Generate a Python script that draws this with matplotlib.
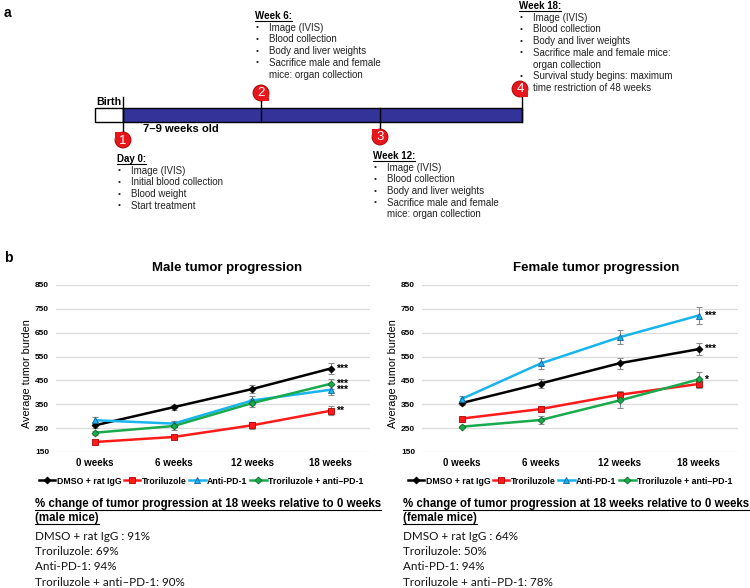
import numpy as np
import matplotlib
matplotlib.use('Agg')
import matplotlib.pyplot as plt
from matplotlib.patches import Rectangle, Circle

plt.rcParams['font.family'] = ['Liberation Sans', 'DejaVu Sans']

W, H = 750, 588

# ---- data ----
weeks = ['0 weeks', '6 weeks', '12 weeks', '18 weeks']
groups = ['DMSO + rat IgG', 'Troriluzole', 'Anti-PD-1', 'Troriluzole + anti\u2013PD-1']

male_dmso = [262, 338, 414, 500]
male_tror = [192, 213, 262, 323]
male_anti = [283, 269, 366, 411]
male_combo = [231, 259, 355, 436]
male_dmso_err = [12, 10, 18, 24]
male_tror_err = [8, 8, 14, 18]
male_anti_err = [12, 12, 18, 20]
male_combo_err = [8, 18, 16, 20]
male_stars = ['***', '**', '***', '***']

female_dmso = [355, 437, 522, 581]
female_tror = [290, 330, 390, 435]
female_anti = [372, 521, 631, 722]
female_combo = [256, 284, 366, 454]
female_dmso_err = [10, 18, 22, 26]
female_tror_err = [6, 12, 16, 18]
female_anti_err = [12, 22, 30, 35]
female_combo_err = [5, 18, 30, 30]
female_stars = ['***', '', '***', '*']

pct_labels = ['DMSO + rat IgG :', 'Troriluzole:', 'Anti-PD-1:', 'Troriluzole + anti\u2013PD-1:']
male_pct = [91, 69, 94, 90]
female_pct = [64, 50, 94, 78]

# timeline events; '+' marks a wrapped line with no bullet
day0_items = ['Image (IVIS)', 'Initial blood collection', 'Blood weight', 'Start treatment']
week6_items = ['Image (IVIS)', 'Blood collection', 'Body and liver weights',
               'Sacrifice male and female', '+mice: organ collection']
week12_items = ['Image (IVIS)', 'Blood collection', 'Body and liver weights',
                'Sacrifice male and female', '+mice: organ collection']
week18_items = ['Image (IVIS)', 'Blood collection', 'Body and liver weights',
                'Sacrifice male and female mice:', '+organ collection',
                'Survival study begins: maximum', '+time restriction of 48 weeks']

colors = ['#000000', '#ff1a1a', '#18b4ec', '#1aaa4e']
edges = ['#000000', '#b00000', '#1060a0', '#0a6a2a']
markers = ['D', 's', '^', 'D']
msizes = [3.5, 5, 4, 3.5]

fig = plt.figure(figsize=(W / 100, H / 100), dpi=100)
bg = fig.add_axes([0, 0, 1, 1])
bg.set_xlim(0, W)
bg.set_ylim(H, 0)
bg.axis('off')

underline_texts = []


def txt(x, y, s, size=7, weight='normal', underline=False, **kw):
    t = bg.text(x, y, s, fontsize=size, fontweight=weight, va='center', ha='left', **kw)
    if underline:
        underline_texts.append(t)
    return t


def event_block(x, y, title, items, bx, tx, dy=11.7):
    txt(x, y, title, size=7, weight='bold', underline=True)
    yy = y
    for it in items:
        yy += dy
        if it.startswith('+'):
            txt(tx, yy, it[1:], color='#222222')
        else:
            txt(bx, yy, '\u2022', size=6, color='#222222')
            txt(tx, yy, it, color='#222222')


def pin(cx, cy, num, corner):
    r = 8
    red = '#e8151b'
    bg.add_patch(Circle((cx, cy), r, facecolor=red, edgecolor='#9a0000', lw=0.6, zorder=5))
    if corner == 'tl':
        bg.add_patch(Rectangle((cx - r, cy - r), r, r, facecolor=red, edgecolor='none', zorder=5))
    else:
        bg.add_patch(Rectangle((cx, cy), r, r, facecolor=red, edgecolor='none', zorder=5))
    bg.text(cx, cy + 0.5, str(num), color='white', fontsize=9.5, ha='center', va='center', zorder=6)


# ---- panel a ----
txt(4, 13, 'a', size=10, weight='bold')
bg.add_patch(Rectangle((95, 108), 28, 14, facecolor='white', edgecolor='black', lw=1))
bg.add_patch(Rectangle((123, 108), 399, 14, facecolor='#333399', edgecolor='black', lw=1))
bg.plot([123, 123], [97, 132], color='black', lw=1)
bg.plot([261, 261], [100, 122], color='black', lw=1)
bg.plot([380, 380], [108, 130], color='black', lw=1)
bg.plot([522, 522], [96, 122], color='black', lw=1)
txt(96, 102, 'Birth', size=7.7, weight='bold')
txt(143, 129, '7\u20139 weeks old', size=8.1, weight='bold')
pin(123, 140, 1, 'tl')
pin(261, 93, 2, 'br')
pin(380, 137, 3, 'tl')
pin(520, 89, 4, 'br')

event_block(117, 159, 'Day 0:', day0_items, 118, 131)
event_block(255, 16, 'Week 6:', week6_items, 256, 269)
event_block(373, 156, 'Week 12:', week12_items, 374, 387)
event_block(519, 6, 'Week 18:', week18_items, 520, 533)

# ---- panel b ----
txt(4, 258, 'b', size=10, weight='bold')


def tumor_plot(rect, series, errs, stars, title, title_x, leg_x):
    l, r, t, b = rect
    ax = fig.add_axes([l / W, 1 - b / H, (r - l) / W, (b - t) / H])
    x = np.arange(len(weeks))
    for i in range(4):
        ax.errorbar(x, series[i], yerr=errs[i], fmt='none',
                    ecolor='#8c8c8c', elinewidth=0.8, capsize=2, capthick=0.8, zorder=2)
        ax.plot(x, series[i], color=colors[i], lw=1.8,
                marker=markers[i], ms=msizes[i], mfc=colors[i], mec=edges[i], mew=0.6,
                label=groups[i], zorder=3 + i)
        if stars[i]:
            ax.annotate(stars[i], (x[-1], series[i][-1]), xytext=(4, 0),
                        textcoords='offset points', fontsize=7.5, fontweight='bold',
                        va='center', ha='left')
    ax.set_xlim(-0.5, 3.5)
    ax.set_ylim(150, 850)
    ax.set_yticks(np.arange(150, 851, 100))
    ax.set_xticks(x)
    ax.set_xticklabels(weeks, fontsize=7, fontweight='bold')
    for lab in ax.get_yticklabels():
        lab.set_fontsize(6)
        lab.set_fontweight('bold')
    ax.tick_params(length=0, pad=4)
    ax.tick_params(axis='y', pad=5)
    for s in ax.spines.values():
        s.set_visible(False)
    ax.grid(axis='y', color='#dcdcdc', lw=0.9)
    ax.set_axisbelow(True)
    ax.set_ylabel('Average tumor burden', fontsize=7.8)
    ax.yaxis.set_label_coords(-0.075, 0.47)
    bg.text(title_x, 268, title, fontsize=9.5, fontweight='bold', ha='center', va='center')
    fig.legend(*ax.get_legend_handles_labels(), loc='center', ncol=4,
               bbox_to_anchor=(leg_x / W, 1 - 481 / H), frameon=False,
               prop={'size': 6.3, 'weight': 'bold'}, handlelength=1.9,
               handletextpad=0.15, columnspacing=0.3, borderpad=0)
    return ax


tumor_plot((56, 370, 285, 452), [male_dmso, male_tror, male_anti, male_combo],
           [male_dmso_err, male_tror_err, male_anti_err, male_combo_err],
           male_stars, 'Male tumor progression', 227, 201)
tumor_plot((422, 738, 285, 452), [female_dmso, female_tror, female_anti, female_combo],
           [female_dmso_err, female_tror_err, female_anti_err, female_combo_err],
           female_stars, 'Female tumor progression', 596, 570)

# percentage text blocks
head = ['Liberation Sans', 'DejaVu Sans']
body = ['Lato', 'DejaVu Sans']
for x0, sex, pcts in [(35, 'male mice', male_pct), (403, 'female mice', female_pct)]:
    t1 = bg.text(x0, 504, '% change of tumor progression at 18 weeks relative to 0 weeks',
                 fontsize=8.3, fontweight='bold', family=head, va='center')
    t2 = bg.text(x0, 518, '(' + sex + ')', fontsize=8.3, fontweight='bold', family=head, va='center')
    underline_texts.extend([t1, t2])
    for k, (lab, p) in enumerate(zip(pct_labels, pcts)):
        bg.text(x0, 536 + k * 15.4, '%s %d%%' % (lab, p), fontsize=8.4, family=body,
                va='center', color='#111111')

# underlines
fig.canvas.draw()
rend = fig.canvas.get_renderer()
inv = bg.transData.inverted()
for t in underline_texts:
    bb = t.get_window_extent(rend)
    (x0, y0), (x1, y1) = inv.transform([(bb.x0, bb.y0), (bb.x1, bb.y1)])
    bg.plot([x0, x1], [y0 - 0.5, y0 - 0.5], color='black', lw=0.8)

fig.savefig('out.png', dpi=100)
